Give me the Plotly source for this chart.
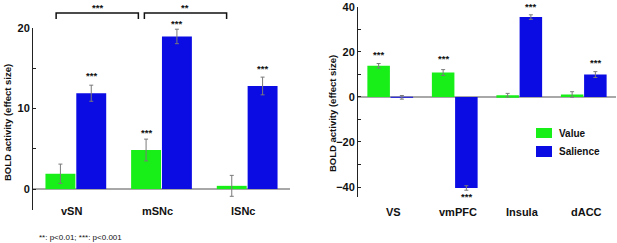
import plotly.graph_objects as go

# ---------------- data ----------------
left_cats = ["vSN", "mSNc", "lSNc"]
left_value = [1.9, 4.85, 0.4]
left_value_err = [1.2, 1.35, 1.3]
left_salience = [11.9, 18.95, 12.8]
left_salience_err = [1.0, 0.9, 1.1]

right_cats = ["VS", "vmPFC", "Insula", "dACC"]
right_value = [13.8, 10.8, 0.75, 1.1]
right_value_err = [1.0, 1.3, 0.8, 1.2]
right_salience = [-0.2, -40.4, 35.4, 9.9]
right_salience_err = [0.8, 1.0, 1.0, 1.3]

# significance stars: (category index, series, y position in data units)
left_stars = [(0, "s", 14.4), (1, "v", 7.3), (1, "s", 20.8), (2, "s", 15.2)]
right_stars = [(0, "v", 19.6), (1, "v", 18.1), (1, "s", -43.3), (2, "s", 40.9), (3, "s", 16.0)]

GREEN = "#18EE18"
BLUE = "#0B0BE3"
ERR = "#7a7a7a"
FONT = "Liberation Sans, Arial, sans-serif"

fig = go.Figure()

def add_bars(cats, val, val_err, sal, sal_err, xa, ya):
    fig.add_trace(go.Bar(x=cats, y=val, name="Value", marker=dict(color=GREEN, line=dict(width=0)),
                         error_y=dict(type="data", array=val_err, color=ERR, thickness=1, width=2),
                         xaxis=xa, yaxis=ya, showlegend=False))
    fig.add_trace(go.Bar(x=cats, y=sal, name="Salience", marker=dict(color=BLUE, line=dict(width=0)),
                         error_y=dict(type="data", array=sal_err, color=ERR, thickness=1, width=2),
                         xaxis=xa, yaxis=ya, showlegend=False))

add_bars(left_cats, left_value, left_value_err, left_salience, left_salience_err, "x", "y")
add_bars(right_cats, right_value, right_value_err, right_salience, right_salience_err, "x2", "y2")

W, H = 617, 243
def px(x):
    return x / W
def py(y):
    return 1 - y / H

LY_DOM = [py(210), py(28)]
LY_RNG = [-2.6, 20]
RY_DOM = [py(197), py(6.7)]
RY_RNG = [-44.4, 40]

def to_paper(v, dom, rng):
    return dom[0] + (v - rng[0]) / (rng[1] - rng[0]) * (dom[1] - dom[0])

axis_common = dict(showgrid=False, linecolor="#222", linewidth=1, ticks="inside", ticklen=3,
                   tickcolor="#222", tickfont=dict(family=FONT, size=11, color="#111", weight="bold"),
                   zeroline=True, zerolinecolor="#a8a8a8", zerolinewidth=1.5, automargin=False)

fig.update_layout(
    width=W, height=H, margin=dict(l=0, r=0, t=0, b=0, autoexpand=False),
    paper_bgcolor="white", plot_bgcolor="white",
    barmode="group", bargap=0.28, bargroupgap=0.03,
    font=dict(family=FONT, color="#111"),
    xaxis=dict(domain=[px(33), px(290)], range=[-0.5, 2.5], showticklabels=False, showline=False,
               ticks="", showgrid=False, zeroline=False, anchor="y", automargin=False),
    yaxis=dict(domain=LY_DOM, range=LY_RNG, tickvals=[0, 10, 20], anchor="x",
               showline=True, minor=dict(tickvals=[5, 15], ticks="inside", ticklen=3, tickcolor="#222"),
               **axis_common),
    xaxis2=dict(domain=[px(358), px(616)], range=[-0.5, 3.5], showticklabels=False, showline=False,
                ticks="", showgrid=False, zeroline=False, anchor="y2", automargin=False),
    yaxis2=dict(domain=RY_DOM, range=RY_RNG, tickvals=[-40, -20, 0, 20, 40], anchor="x2",
                showline=True, minor=dict(tickvals=[-30, -10, 10, 30], ticks="inside", ticklen=3, tickcolor="#222"),
                **axis_common),
)

ann = []
shapes = []
OFF = 0.18
C = dict(xanchor="center", yanchor="middle", showarrow=False)
# category labels
for i, c in enumerate(left_cats):
    ann.append(dict(x=i, y=py(211), xref="x", yref="paper", text=c, xshift=-4,
                    font=dict(family=FONT, size=11, color="#111", weight="bold"), **C))
for i, c in enumerate(right_cats):
    ann.append(dict(x=i, y=py(212), xref="x2", yref="paper", text=c, xshift=3,
                    font=dict(family=FONT, size=11, color="#111", weight="bold"), **C))
# stars
for i, s, y in left_stars:
    ann.append(dict(x=i + (-OFF if s == "v" else OFF), y=to_paper(y, LY_DOM, LY_RNG), xref="x", yref="paper",
                    text="***", yshift=-2, font=dict(family=FONT, size=9.5, color="#111", weight="bold"), **C))
for i, s, y in right_stars:
    ann.append(dict(x=i + (-OFF if s == "v" else OFF), y=to_paper(y, RY_DOM, RY_RNG), xref="x2", yref="paper",
                    text="***", yshift=-2, font=dict(family=FONT, size=9.5, color="#111", weight="bold"), **C))
# y-axis titles
ann.append(dict(x=px(7), y=py(123), xref="paper", yref="paper", text="BOLD activity (effect size)",
                textangle=-90, font=dict(family=FONT, size=9.5, color="#111", weight="bold"), **C))
ann.append(dict(x=px(332), y=py(114), xref="paper", yref="paper", text="BOLD activity (effect size)",
                textangle=-90, font=dict(family=FONT, size=9.5, color="#111", weight="bold"), **C))
# footnote
ann.append(dict(x=px(37), y=py(237), xref="paper", yref="paper", xanchor="left", yanchor="middle",
                text="**: p<0.01; ***: p<0.001", showarrow=False, font=dict(family=FONT, size=8, color="#111")))
# comparison brackets
brackets = [(-0.23, 0.73, "***"), (0.80, 1.76, "**")]
for x0, x1, lab in brackets:
    shapes.append(dict(type="path", xref="x", yref="paper",
                       path=f"M {x0},{py(19)} L {x0},{py(13)} L {x1},{py(13)} L {x1},{py(19)}",
                       line=dict(color="#111", width=1.5)))
    ann.append(dict(x=(x0 + x1) / 2, y=py(5), xref="x", yref="paper", text=lab, yshift=-2,
                    font=dict(family=FONT, size=9.5, color="#111", weight="bold"), **C))
# legend
for (y0, y1, col, lab) in [(128, 138, GREEN, "Value"), (146, 157, BLUE, "Salience")]:
    shapes.append(dict(type="rect", xref="paper", yref="paper", x0=px(536), x1=px(552), y0=py(y1), y1=py(y0),
                       fillcolor=col, line=dict(width=0)))
    ann.append(dict(x=px(557), y=py((y0 + y1) / 2), xref="paper", yref="paper", xanchor="left", yanchor="middle",
                    text=lab, showarrow=False, font=dict(family=FONT, size=10, color="#111", weight="bold")))

fig.update_layout(annotations=ann, shapes=shapes)
fig.write_html("out.html", config={"displayModeBar": False},
               post_script="document.body.style.margin='0px';")
